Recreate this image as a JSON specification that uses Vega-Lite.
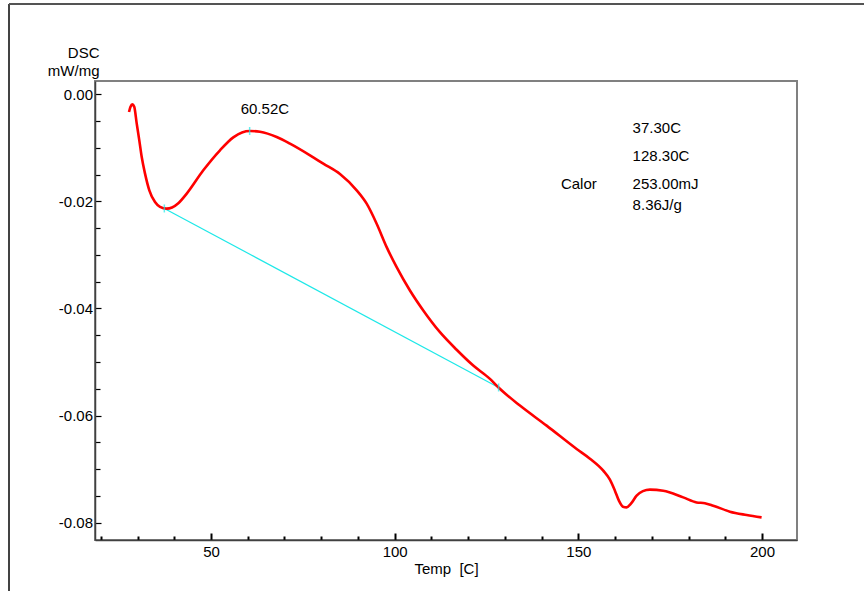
{
  "$schema": "https://vega.github.io/schema/vega-lite/v6.json",
  "width": 702,
  "height": 459,
  "autosize": "none",
  "padding": {"left": 95, "top": 81, "right": 67, "bottom": 51},
  "background": "#ffffff",
  "datasets": {
    "curve": [
      {"t": 27.68, "dsc": -0.00331},
      {"t": 28.09, "dsc": -0.00234},
      {"t": 28.58, "dsc": -0.00187},
      {"t": 29.10, "dsc": -0.00234},
      {"t": 29.78, "dsc": -0.00548},
      {"t": 30.48, "dsc": -0.00860},
      {"t": 31.14, "dsc": -0.01172},
      {"t": 32.04, "dsc": -0.01482},
      {"t": 33.21, "dsc": -0.01794},
      {"t": 34.76, "dsc": -0.02013},
      {"t": 36.12, "dsc": -0.02103},
      {"t": 37.94, "dsc": -0.02136},
      {"t": 39.39, "dsc": -0.02115},
      {"t": 41.10, "dsc": -0.02035},
      {"t": 43.39, "dsc": -0.01855},
      {"t": 47.90, "dsc": -0.01420},
      {"t": 52.45, "dsc": -0.01046},
      {"t": 56.07, "dsc": -0.00805},
      {"t": 58.44, "dsc": -0.00712},
      {"t": 60.62, "dsc": -0.00686},
      {"t": 63.34, "dsc": -0.00701},
      {"t": 67.88, "dsc": -0.00798},
      {"t": 71.50, "dsc": -0.00922},
      {"t": 76.95, "dsc": -0.01140},
      {"t": 80.57, "dsc": -0.01296},
      {"t": 85.11, "dsc": -0.01490},
      {"t": 89.66, "dsc": -0.01794},
      {"t": 92.38, "dsc": -0.02043},
      {"t": 95.10, "dsc": -0.02417},
      {"t": 97.82, "dsc": -0.02854},
      {"t": 100.54, "dsc": -0.03228},
      {"t": 104.16, "dsc": -0.03664},
      {"t": 107.79, "dsc": -0.04037},
      {"t": 112.33, "dsc": -0.04443},
      {"t": 116.87, "dsc": -0.04770},
      {"t": 121.39, "dsc": -0.05065},
      {"t": 125.94, "dsc": -0.05314},
      {"t": 128.20, "dsc": -0.05471},
      {"t": 134.10, "dsc": -0.05813},
      {"t": 141.37, "dsc": -0.06187},
      {"t": 149.54, "dsc": -0.06623},
      {"t": 153.16, "dsc": -0.06804},
      {"t": 156.78, "dsc": -0.07028},
      {"t": 158.60, "dsc": -0.07196},
      {"t": 159.96, "dsc": -0.07402},
      {"t": 161.05, "dsc": -0.07589},
      {"t": 162.14, "dsc": -0.07701},
      {"t": 163.14, "dsc": -0.07714},
      {"t": 164.32, "dsc": -0.07645},
      {"t": 165.87, "dsc": -0.07495},
      {"t": 167.58, "dsc": -0.07411},
      {"t": 169.49, "dsc": -0.07383},
      {"t": 173.11, "dsc": -0.07402},
      {"t": 178.55, "dsc": -0.07527},
      {"t": 182.20, "dsc": -0.07621},
      {"t": 184.46, "dsc": -0.07636},
      {"t": 186.72, "dsc": -0.07682},
      {"t": 191.26, "dsc": -0.07794},
      {"t": 195.81, "dsc": -0.07856},
      {"t": 199.89, "dsc": -0.07901}
    ],
    "baseline": [
      {"t": 37.30, "dsc": -0.02132},
      {"t": 128.30, "dsc": -0.05475}
    ],
    "markers": [
      {"t": 37.30, "dsc": -0.02132},
      {"t": 60.52, "dsc": -0.00686},
      {"t": 128.30, "dsc": -0.05475}
    ],
    "notes": [
      {"t": 58.08, "dsc": -0.00373, "label": "60.52C"},
      {"t": 164.78, "dsc": -0.00717, "label": "37.30C"},
      {"t": 164.78, "dsc": -0.01246, "label": "128.30C"},
      {"t": 145.26, "dsc": -0.01774, "label": "Calor"},
      {"t": 164.78, "dsc": -0.01774, "label": "253.00mJ"},
      {"t": 164.78, "dsc": -0.02161, "label": "8.36J/g"}
    ]
  },
  "data": {"name": "curve"},
  "encoding": {
    "x": {
      "field": "t",
      "type": "quantitative",
      "scale": {"domain": [18.42, 209.53], "nice": false, "zero": false},
      "axis": {
        "values": [20, 30, 40, 50, 60, 70, 80, 90, 100, 110, 120, 130, 140, 150, 160, 170, 180, 190, 200],
        "labelExpr": "datum.value % 50 === 0 ? datum.label : ''",
        "tickSize": {"condition": {"test": "datum.value % 50 === 0", "value": -7}, "value": -4},
        "tickColor": "#000000",
        "tickWidth": 2,
        "labelPadding": 11,
        "labelFont": "Liberation Sans",
        "labelFontSize": 15,
        "labelColor": "#000000",
        "labelFlush": false,
        "labelOverlap": false,
        "domainColor": "#404040",
        "domainWidth": 1.5,
        "grid": false,
        "title": "Temp\u00a0\u00a0[C]",
        "titleFont": "Liberation Sans",
        "titleFontSize": 15,
        "titleFontWeight": "normal",
        "titleColor": "#000000",
        "titleAlign": "center",
        "titleBaseline": "alphabetic",
        "titleX": 351,
        "titleY": 33.5
      }
    },
    "y": {
      "field": "dsc",
      "type": "quantitative",
      "scale": {"domain": [-0.08323, 0.00248], "nice": false, "zero": false},
      "axis": {
        "values": [0, -0.005, -0.01, -0.015, -0.02, -0.025, -0.03, -0.035, -0.04, -0.045, -0.05, -0.055, -0.06, -0.065, -0.07, -0.075, -0.08],
        "labelExpr": "round(datum.value * 1000) % 20 === 0 ? (datum.value < 0 ? '-' : '') + format(abs(datum.value), '.2f') : ''",
        "tickSize": {"condition": {"test": "round(datum.value * 1000) % 20 === 0", "value": -6}, "value": -5},
        "tickColor": "#000000",
        "tickWidth": 1.2,
        "labelPadding": 8.5,
        "labelFont": "Liberation Sans",
        "labelFontSize": 15,
        "labelColor": "#000000",
        "labelFlush": false,
        "labelOverlap": false,
        "domainColor": "#404040",
        "domainWidth": 1.5,
        "grid": false,
        "title": ["DSC", "mW/mg"],
        "titleFont": "Liberation Sans",
        "titleFontSize": 15,
        "titleFontWeight": "normal",
        "titleColor": "#000000",
        "titleAngle": 0,
        "titleAlign": "right",
        "titleBaseline": "alphabetic",
        "titleLineHeight": 18,
        "titleX": 4,
        "titleY": -24
      }
    }
  },
  "layer": [
    {
      "data": {"name": "baseline"},
      "mark": {"type": "line", "color": "#1ee8e8", "strokeWidth": 1.2}
    },
    {
      "mark": {"type": "line", "color": "#ff0000", "strokeWidth": 2.6, "interpolate": "monotone"}
    },
    {
      "data": {"name": "markers"},
      "mark": {"type": "tick", "orient": "vertical", "color": "#1ee8e8", "size": 8, "thickness": 1.5}
    },
    {
      "data": {"name": "notes"},
      "mark": {"type": "text", "align": "left", "baseline": "alphabetic", "font": "Liberation Sans", "fontSize": 15, "color": "#000000"},
      "encoding": {"text": {"field": "label"}}
    },
    {
      "description": "outer frame, left edge",
      "mark": {"type": "rule", "color": "#444444", "strokeWidth": 1.5, "clip": false},
      "encoding": {
        "x": {"datum": -4.99, "type": "quantitative"},
        "y": {"datum": 0.01686, "type": "quantitative"},
        "y2": {"datum": -0.09275}
      }
    },
    {
      "description": "outer frame, top edge",
      "mark": {"type": "rule", "color": "#555555", "strokeWidth": 1.5, "clip": false},
      "encoding": {
        "x": {"datum": -4.99, "type": "quantitative"},
        "x2": {"datum": 227.77},
        "y": {"datum": 0.01686, "type": "quantitative"}
      }
    }
  ],
  "config": {
    "view": {"stroke": "#808080", "strokeWidth": 2},
    "font": "Liberation Sans"
  }
}
